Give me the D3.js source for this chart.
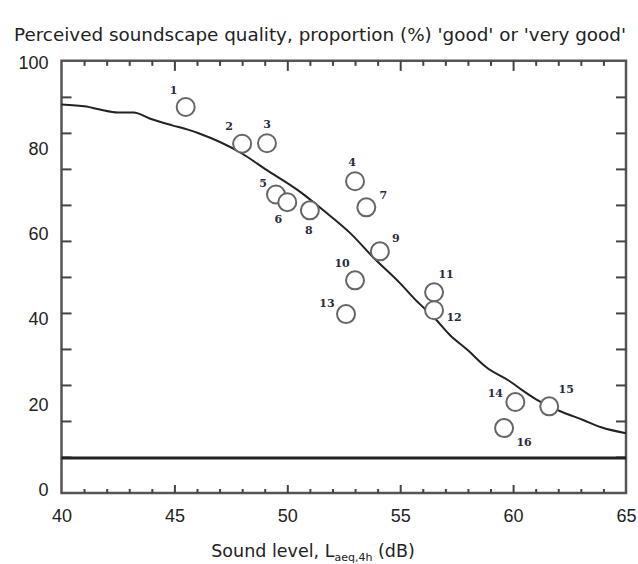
<!DOCTYPE html>
<html>
<head>
<meta charset="utf-8">
<script src="https://cdn.jsdelivr.net/npm/d3@7"></script>
<style>
  body { margin: 0; background: #fff; }
  svg { font-family: "DejaVu Sans", Verdana, sans-serif; }
  .lbl { font-family: "DejaVu Serif", serif; font-weight: bold; font-size: 11px; fill: #2b2b3c; }
</style>
</head>
<body>
<div id="chart"></div>
<script>
// survey sites: sound level (dB) and share rating the soundscape good / very good (%)
const SITE_IDS = [1, 2, 3, 4, 5, 6, 7, 8, 9, 10, 11, 12, 13, 14, 15, 16];
const SITE_LEVEL = [45.5, 48.0, 49.1, 53.0, 49.5, 50.0, 53.5, 51.0, 54.1, 53.0, 56.5, 56.5, 52.6, 60.1, 61.6, 59.6];
const SITE_GOOD = [89.7, 81.1, 81.2, 72.3, 69.2, 67.4, 66.2, 65.5, 55.9, 49.1, 46.3, 42.1, 41.2, 20.6, 19.6, 14.5];

// fitted curve
const CURVE_LEVEL = [40.0, 41.1, 41.7, 42.5, 43.2, 43.9, 44.9, 45.6, 46.1, 47.9, 49.1, 50.6, 51.6, 52.8, 53.8,
  55.0, 55.7, 56.5, 57.2, 58.0, 58.8, 59.9, 60.4, 61.0, 62.2, 63.1, 63.9, 65.0];
const CURVE_GOOD = [90.3, 89.8, 89.1, 88.4, 88.4, 87.0, 85.4, 84.4, 83.5, 79.1, 74.9, 69.7, 65.5, 60.1, 54.5,
  48.4, 44.4, 40.4, 36.3, 32.7, 28.8, 25.3, 23.4, 21.3, 18.2, 16.4, 14.7, 13.3];

const REF_LINE = 7.5;
const X_TICKS = [40, 45, 50, 55, 60, 65];
const Y_TICKS = [0, 20, 40, 60, 80, 100];

// where each number sits relative to its circle (px)
const LABEL_OFFSET = [[-12, -17], [-13, -18], [0, -19], [-3, -19], [-13, -11], [-9, 17], [17, -12], [-1, 20],
  [16, -13], [-13, -17], [12, -18], [20, 7], [-19, -11], [-20, -9], [17, -17], [20, 14]];

const W = 638, H = 564;
const X = d3.scaleLinear().domain([40, 65]).range([61.5, 626]);
const Y = d3.scaleLinear().domain([0, 100]).range([490, 63]);
// the scanned frame runs a little past 0 and 100
const FRAME_LO = -0.7, FRAME_HI = 100.5;
const FRAME_STEP = (FRAME_HI - FRAME_LO) / 12;
const yFrameTicks = d3.range(1, 12).map(k => FRAME_LO + k * FRAME_STEP);
const xMinor = d3.range(41, 65).filter(v => v % 5 !== 0);
const xMajor = [45, 50, 55, 60];

const svg = d3.select("#chart").append("svg").attr("width", W).attr("height", H);

svg.append("text")
  .attr("x", 14).attr("y", 41)
  .attr("font-size", 17).attr("fill", "#222")
  .attr("textLength", 612).attr("lengthAdjust", "spacingAndGlyphs")
  .text("Perceived soundscape quality, proportion (%) 'good' or 'very good'");

const frame = svg.append("g").attr("stroke", "#555").attr("fill", "none");
const x0 = X(40), x1 = X(65), yTop = Y(FRAME_HI), yBot = Y(FRAME_LO);

// inward ticks
function tickAxis(axis, pos, sizeVals) {
  sizeVals.forEach(([vals, size]) => {
    const g = svg.append("g").attr("transform", pos)
      .call(axis.tickValues(vals).tickSize(size).tickFormat(""));
    g.select(".domain").remove();
    g.selectAll("line").attr("stroke", "#444").attr("stroke-width", 2);
  });
}
tickAxis(d3.axisBottom(X), `translate(0,${yBot})`, [[xMinor, -4], [xMajor, -8]]);
tickAxis(d3.axisTop(X), `translate(0,${yTop})`, [[xMinor, -5], [xMajor, -10]]);
tickAxis(d3.axisLeft(Y), `translate(${x0},0)`, [[yFrameTicks, -10]]);
tickAxis(d3.axisRight(Y), `translate(${x1},0)`, [[yFrameTicks, -10]]);

frame.append("path")
  .attr("d", `M${x0},${yBot}V${yTop}H${x1}V${yBot}Z`)
  .attr("stroke-width", 2.5);

svg.append("line")
  .attr("x1", x0).attr("x2", x1)
  .attr("y1", Y(REF_LINE)).attr("y2", Y(REF_LINE))
  .attr("stroke", "#222").attr("stroke-width", 3);

// value labels
const xl = svg.append("g").attr("transform", `translate(0,${yBot})`)
  .call(d3.axisBottom(X).tickValues(X_TICKS).tickSize(0).tickPadding(16).tickFormat(d3.format("d")));
const yl = svg.append("g").attr("transform", `translate(${x0},0)`)
  .call(d3.axisLeft(Y).tickValues(Y_TICKS).tickSize(0).tickPadding(13).tickFormat(d3.format("d")));
[xl, yl].forEach(g => {
  g.select(".domain").remove();
  g.selectAll("text").attr("font-size", 18).attr("fill", "#222").attr("font-family", null);
});

const xt = svg.append("text")
  .attr("x", 313).attr("y", 557)
  .attr("text-anchor", "middle").attr("font-size", 17.5).attr("fill", "#222");
xt.append("tspan").text("Sound level, L");
xt.append("tspan").attr("font-size", 11).attr("dy", 4).text("aeq,4h");
xt.append("tspan").attr("dy", -4).text(" (dB)");

const curve = CURVE_LEVEL.map((v, i) => [v, CURVE_GOOD[i]]);
svg.append("path")
  .datum(curve)
  .attr("fill", "none").attr("stroke", "#222").attr("stroke-width", 2)
  .attr("d", d3.line().x(d => X(d[0])).y(d => Y(d[1])).curve(d3.curveMonotoneX));

const sites = SITE_IDS.map((id, i) => ({ id, level: SITE_LEVEL[i], good: SITE_GOOD[i], off: LABEL_OFFSET[i] }));

svg.selectAll("circle.site")
  .data(sites)
  .enter()
  .append("circle")
  .attr("class", "site")
  .attr("cx", d => X(d.level))
  .attr("cy", d => Y(d.good))
  .attr("r", 9)
  .attr("fill", "#fff")
  .attr("stroke", "#666")
  .attr("stroke-width", 2);

svg.selectAll("text.lbl")
  .data(sites)
  .enter()
  .append("text")
  .attr("class", "lbl")
  .attr("x", d => X(d.level) + d.off[0])
  .attr("y", d => Y(d.good) + d.off[1])
  .attr("text-anchor", "middle")
  .attr("dy", "0.35em")
  .text(d => d.id);
</script>
</body>
</html>
